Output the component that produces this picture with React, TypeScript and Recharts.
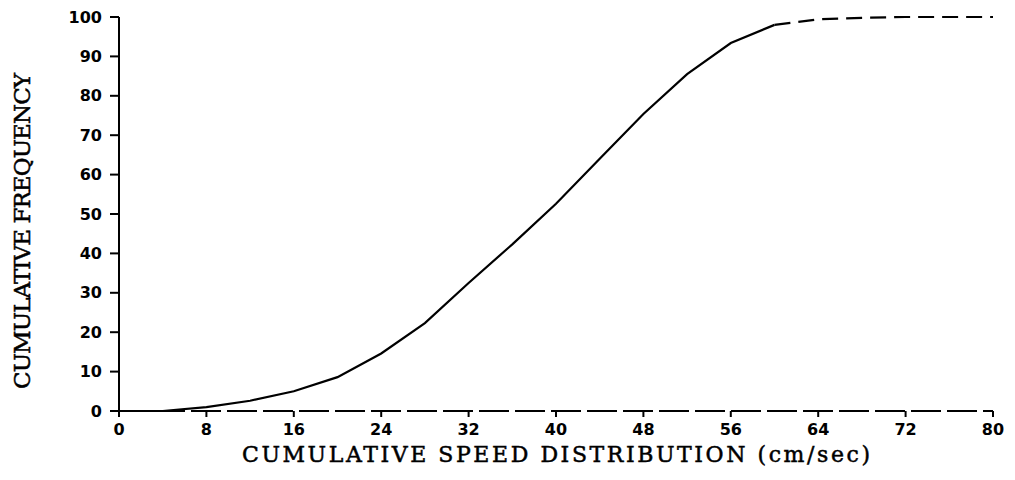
import { LineChart, Line, XAxis, YAxis, Label } from "recharts";

// speed bins (cm/sec) and cumulative frequency (%)
const speeds = [0, 4, 8, 12, 16, 20, 24, 28, 32, 36, 40, 44, 48, 52, 56, 60, 64, 68, 72, 76, 80];
const cumFreq = [0, 0, 1, 2.6, 5, 8.6, 14.6, 22.3, 32.5, 42.3, 52.6, 64, 75.4, 85.5, 93.4, 98, 99.4, 99.8, 100, 100, 100];
// the tail past 60 is drawn dashed
const TAIL_START = 60;

const xTicks = [0, 8, 16, 24, 32, 40, 48, 56, 64, 72, 80];
const yTicks = [0, 10, 20, 30, 40, 50, 60, 70, 80, 90, 100];

const data = speeds.map((s, i) => ({
  speed: s,
  main: s <= TAIL_START ? cumFreq[i] : null,
  tail: s >= TAIL_START ? cumFreq[i] : null,
}));

const tickFont = { fontFamily: "DejaVu Sans", fontWeight: 700, fontSize: 16, fill: "#000" };
const titleFont = "DejaVu Serif";

export default function App() {
  return (
    <div style={{ position: "absolute", left: 0, top: 0, width: 1015, height: 480, background: "#fff" }}>
      <LineChart
        width={1015}
        height={480}
        data={data}
        margin={{ top: 17, right: 22, bottom: 0, left: 0 }}
      >
        <XAxis
          dataKey="speed"
          type="number"
          domain={[0, 80]}
          ticks={xTicks}
          height={69}
          tickSize={6}
          tickMargin={7}
          tick={tickFont}
          axisLine={{ stroke: "#000", strokeWidth: 2, strokeDasharray: "30 6" }}
          tickLine={{ stroke: "#000", strokeWidth: 2 }}
        >
          <Label
            content={({ viewBox }: any) => (
              <text
                x={viewBox.x + viewBox.width / 2}
                y={viewBox.y + 51}
                textAnchor="middle"
                fontFamily={titleFont}
                fontSize={22}
                stroke="#000"
                strokeWidth={0.5}
                textLength={628}
                lengthAdjust="spacing"
                fill="#000"
              >
                CUMULATIVE SPEED DISTRIBUTION (cm/sec)
              </text>
            )}
          />
        </XAxis>
        <YAxis
          type="number"
          domain={[0, 100]}
          ticks={yTicks}
          width={119}
          tickSize={9}
          tickMargin={8}
          tick={tickFont}
          axisLine={{ stroke: "#000", strokeWidth: 2 }}
          tickLine={{ stroke: "#000", strokeWidth: 2 }}
        >
          <Label
            content={() => (
              <text
                x={22}
                y={231}
                transform="rotate(-90 22 231)"
                textAnchor="middle"
                dominantBaseline="central"
                fontFamily={titleFont}
                fontSize={23}
                stroke="#000"
                strokeWidth={0.5}
                textLength={316}
                lengthAdjust="spacing"
                fill="#000"
              >
                CUMULATIVE FREQUENCY
              </text>
            )}
          />
        </YAxis>
        <Line
          dataKey="main"
          type="linear"
          stroke="#000"
          strokeWidth={2.2}
          dot={false}
          connectNulls={false}
          isAnimationActive={false}
        />
        <Line
          dataKey="tail"
          type="linear"
          stroke="#000"
          strokeWidth={2.2}
          strokeDasharray="16 8"
          dot={false}
          connectNulls={false}
          isAnimationActive={false}
        />
      </LineChart>
    </div>
  );
}
